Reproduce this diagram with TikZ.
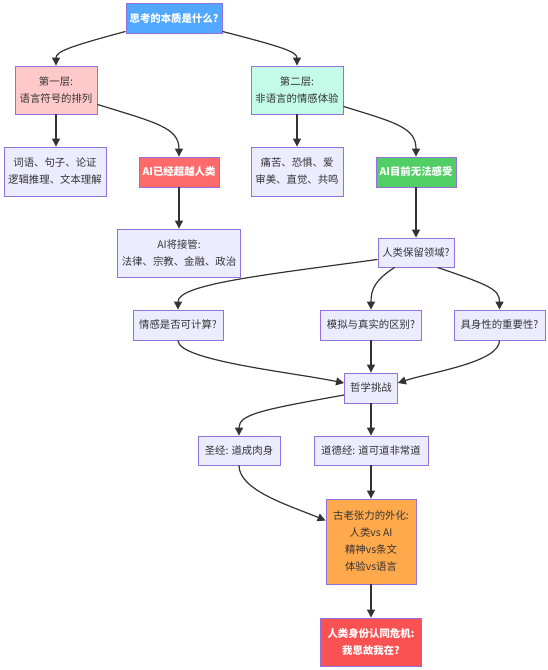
\documentclass[tikz,border=0pt]{standalone}
\usepackage{fontspec}
\setmainfont{Noto Sans CJK SC}
\usetikzlibrary{arrows.meta,calc}
\definecolor{txt}{HTML}{333333}
\definecolor{bord}{HTML}{9370DB}
\definecolor{lav}{HTML}{ECECFF}
\definecolor{cblue}{HTML}{52A8FF}
\definecolor{cpink}{HTML}{FFC9C9}
\definecolor{cmint}{HTML}{C3FAE8}
\definecolor{cred}{HTML}{FF6B6B}
\definecolor{cgreen}{HTML}{51CF66}
\definecolor{corange}{HTML}{FFA94D}
\definecolor{cdeep}{HTML}{FA5252}
\tikzset{
  box/.style={draw=bord, line width=0.9pt, fill=lav, text=txt, inner sep=0pt, align=center,
    font=\fontsize{10.4}{17}\selectfont},
  hot/.style={box, text=white, font=\fontsize{10.4}{17}\selectfont\bfseries},
  edge/.style={draw=txt, line width=1.2pt, -{Triangle[length=8pt,width=8pt]}},
}
\begin{document}
\begin{tikzpicture}[x=1pt,y=-1pt]
\fill[white] (0,0) rectangle (547,670);
\useasboundingbox (0,0) rectangle (547,670);
\node[hot, fill=cblue, minimum width=96pt, minimum height=30pt] (root) at (174,18) {思考的本质是什么?};
\node[box, fill=cpink, minimum width=82pt, minimum height=48pt] (l1) at (56,90) {第一层:\\语言符号的排列};
\node[box, fill=cmint, minimum width=92pt, minimum height=48pt] (l2) at (297,90) {第二层:\\非语言的情感体验};
\node[box, minimum width=102pt, minimum height=49pt] (words) at (55,171.5) {词语、句子、论证\\逻辑推理、文本理解};
\node[hot, fill=cred, minimum width=80pt, minimum height=30pt] (beyond) at (179,172) {AI已经超越人类};
\node[box, minimum width=92pt, minimum height=49pt] (pain) at (297,171.5) {痛苦、恐惧、爱\\审美、直觉、共鸣};
\node[hot, fill=cgreen, minimum width=80pt, minimum height=30pt] (cannot) at (416,172) {AI目前无法感受};
\node[box, minimum width=123pt, minimum height=48pt] (takeover) at (179,253) {AI将接管:\\法律、宗教、金融、政治};
\node[box, minimum width=76pt, minimum height=29pt] (keep) at (416,252.5) {人类保留领域?};
\node[box, minimum width=90pt, minimum height=30pt] (emo) at (178,325) {情感是否可计算?};
\node[box, minimum width=101pt, minimum height=30pt] (sim) at (371,325) {模拟与真实的区别?};
\node[box, minimum width=91pt, minimum height=30pt] (body) at (499.5,325) {具身性的重要性?};
\node[box, minimum width=53pt, minimum height=30pt] (phil) at (371,388) {哲学挑战};
\node[box, minimum width=82pt, minimum height=29pt] (bible) at (239,450.5) {圣经: 道成肉身};
\node[box, minimum width=114pt, minimum height=29pt] (tao) at (371,450.5) {道德经: 道可道非常道};
\node[box, fill=corange, minimum width=90pt, minimum height=85pt] (old) at (371,541.5) {古老张力的外化:\\人类vs AI\\精神vs条文\\体验vs语言};
\node[hot, fill=cdeep, minimum width=101pt, minimum height=48pt] (crisis) at (371,642) {人类身份认同危机:\\我思故我在?};

\draw[edge] ($(root.south west)+(0,-2)$) .. controls +(-56,15) and +(0,-14) .. (l1.north);
\draw[edge] ($(root.south east)+(0,-2)$) .. controls +(58,15) and +(0,-14) .. (l2.north);
\draw[edge] (l1.south) -- (l1.south |- words.north);
\draw[edge] ($(l1.south east)+(0,-10)$) .. controls +(58,18) and +(0,-29) .. (beyond.north);
\draw[edge] (l2.south) -- (pain.north);
\draw[edge] ($(l2.south east)+(0,-8)$) .. controls +(52,16) and +(0,-29) .. (cannot.north);
\draw[edge] (beyond.south) -- (beyond.south |- takeover.north);
\draw[edge] (cannot.south) -- (keep.north);
\draw[edge] ($(keep.south west)+(0,-8)$) .. controls +(-118,16) and +(0,-25) .. (emo.north);
\draw[edge] ($(keep.south west)+(17,0)$) .. controls +(-20,13) and +(0,-20) .. (sim.north);
\draw[edge] ($(keep.south east)+(-17,0)$) .. controls +(53,18) and +(0,-20) .. (body.north);
\draw[edge] (emo.south) .. controls +(0,20) and +(-54,-11) .. ($(phil.west)+(0,-5)$);
\draw[edge] (sim.south) -- (phil.north);
\draw[edge] (body.south) .. controls +(0,22) and +(33,-11) .. ($(phil.east)+(0,-5)$);
\draw[edge] ($(phil.west)+(0,7)$) .. controls +(-84,15) and +(0,-21) .. (bible.north);
\draw[edge] (phil.south) -- (tao.north);
\draw[edge] (bible.south) .. controls +(0,25) and +(-36,-15) .. ($(old.west)+(0,-21)$);
\draw[edge] (tao.south) -- (old.north);
\draw[edge] (old.south) -- (crisis.north);
\end{tikzpicture}
\end{document}
